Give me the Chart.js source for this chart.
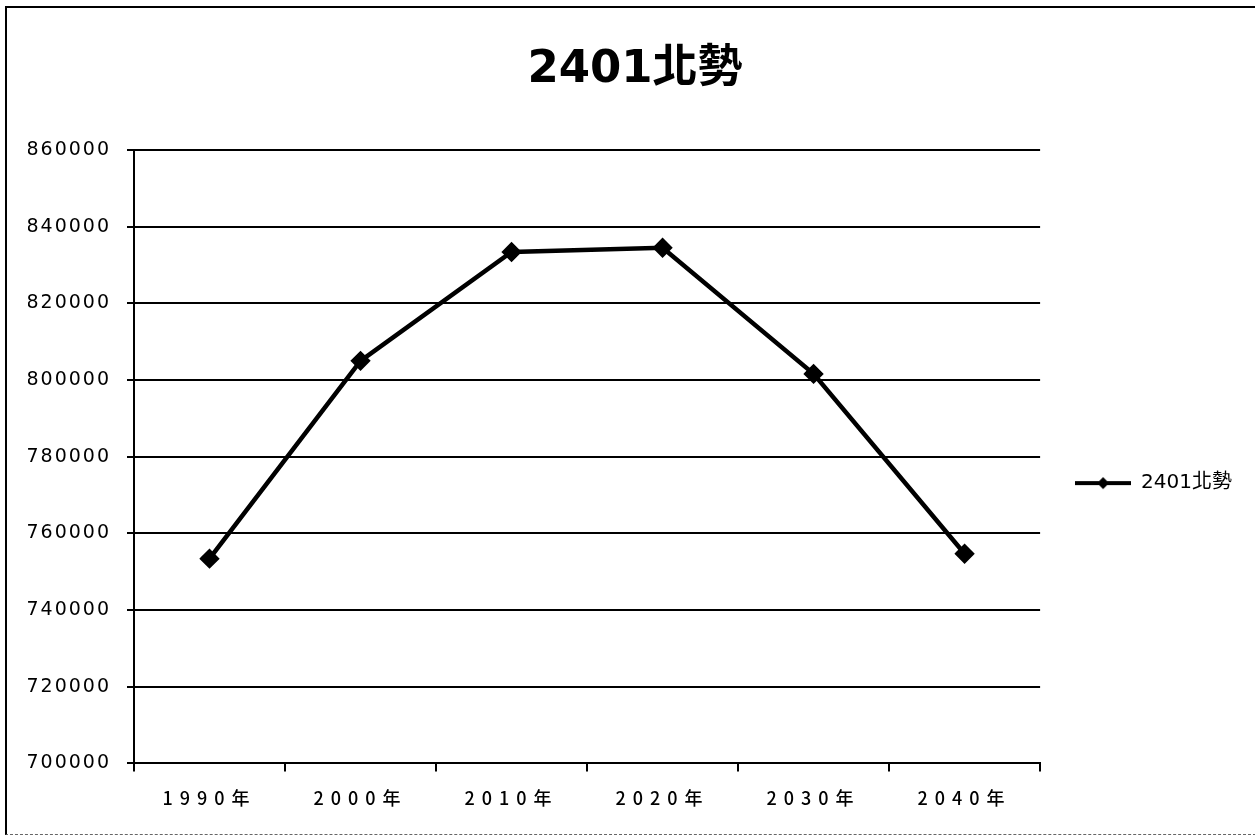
<!DOCTYPE html>
<html>
<head>
<meta charset="utf-8">
<script src="https://cdn.jsdelivr.net/npm/chart.js@4"></script>
<style>
  body { margin: 0; background: #fff; }
  #frame {
    position: absolute; left: 5px; top: 6px; width: 1248px; height: 826px;
    border-left: 2px solid #000; border-top: 2px solid #000;
    border-right: 1px solid #888; border-bottom: 1px dashed #666;
  }
  #wrap { position: absolute; left: 0; top: 0; width: 1255px; height: 840px; }
</style>
</head>
<body>
<div id="frame"></div>
<div id="wrap"><canvas id="popChart"></canvas></div>
<script>
// 2401北勢 population by decade
const years = ["1990年", "2000年", "2010年", "2020年", "2030年", "2040年"];
const population = [753400, 805000, 833400, 834500, 801600, 754700];
const seriesName = "2401北勢";
const yMin = 700000;
const yMax = 860000;
const yStep = 20000;

// legend marker: line with a diamond in the middle
const makeLegendMarker = () => {
  const c = document.createElement("canvas");
  c.width = 56;
  c.height = 14;
  const g = c.getContext("2d");
  g.strokeStyle = "#000";
  g.lineWidth = 4;
  g.beginPath();
  g.moveTo(0, 7);
  g.lineTo(56, 7);
  g.stroke();
  g.fillStyle = "#000";
  g.beginPath();
  g.moveTo(28, 1);
  g.lineTo(34, 7);
  g.lineTo(28, 13);
  g.lineTo(22, 7);
  g.closePath();
  g.fill();
  return c;
};

// spread out tick label letters like the original
const letterSpacingPlugin = {
  id: "letterSpacing",
  beforeDraw(chart) {
    const spacing = { x: "7px", y: "2px" };
    Object.keys(spacing).forEach((id) => {
      const scale = chart.scales[id];
      if (!scale || scale._spaced) return;
      const orig = scale.drawLabels;
      scale.drawLabels = function (area) {
        const ctx = this.ctx;
        ctx.save();
        ctx.letterSpacing = spacing[id];
        orig.call(this, area);
        ctx.restore();
      };
      scale._spaced = true;
    });
  },
};

const chartData = {
  labels: years,
  datasets: [
    {
      label: seriesName,
      data: population,
      borderColor: "#000",
      backgroundColor: "#000",
      borderWidth: 4.5,
      pointStyle: "rectRot",
      pointRadius: 7,
      pointHoverRadius: 7,
      pointBackgroundColor: "#000",
      pointBorderColor: "#000",
      tension: 0,
    },
  ],
};

const config = {
  type: "line",
  data: chartData,
  options: {
    responsive: false,
    animation: false,
    layout: {
      padding: { left: 28, right: 13, top: 0, bottom: 15 },
    },
    plugins: {
      title: {
        display: true,
        text: seriesName,
        color: "#000",
        font: { family: "'DejaVu Sans', 'Noto Sans CJK TC'", size: 45, weight: "bold" },
        padding: { top: 43, bottom: 53 },
      },
      legend: {
        position: "right",
        title: {
          display: true,
          text: " ",
          font: { size: 1 },
          padding: { top: 70, bottom: 70 },
        },
        labels: {
          usePointStyle: true,
          pointStyle: makeLegendMarker(),
          pointStyleWidth: 56,
          color: "#000",
          padding: 35,
          font: { family: "'DejaVu Sans', 'Noto Sans CJK TC'", size: 20 },
        },
      },
      tooltip: { enabled: false },
    },
    scales: {
      x: {
        offset: true,
        grid: {
          offset: true,
          drawOnChartArea: false,
          color: "#000",
          lineWidth: 2,
          tickLength: 8,
        },
        border: { color: "#000", width: 2 },
        ticks: {
          color: "#000",
          padding: 16,
          maxRotation: 0,
          font: { family: "'Noto Sans CJK JP'", size: 18, weight: 500 },
        },
      },
      y: {
        min: yMin,
        max: yMax,
        afterFit: (scale) => {
          scale.width = 106;
        },
        grid: {
          color: "#000",
          lineWidth: 2,
          tickLength: 7,
        },
        border: { color: "#000", width: 2 },
        ticks: {
          stepSize: yStep,
          color: "#000",
          padding: 16,
          font: { family: "'DejaVu Sans'", size: 19 },
          callback: (v) => String(v),
        },
      },
    },
  },
  plugins: [letterSpacingPlugin],
};

const ctx = document.getElementById("popChart");
ctx.width = 1255;
ctx.height = 840;
const myChart = new Chart(ctx, config);
</script>
</body>
</html>
